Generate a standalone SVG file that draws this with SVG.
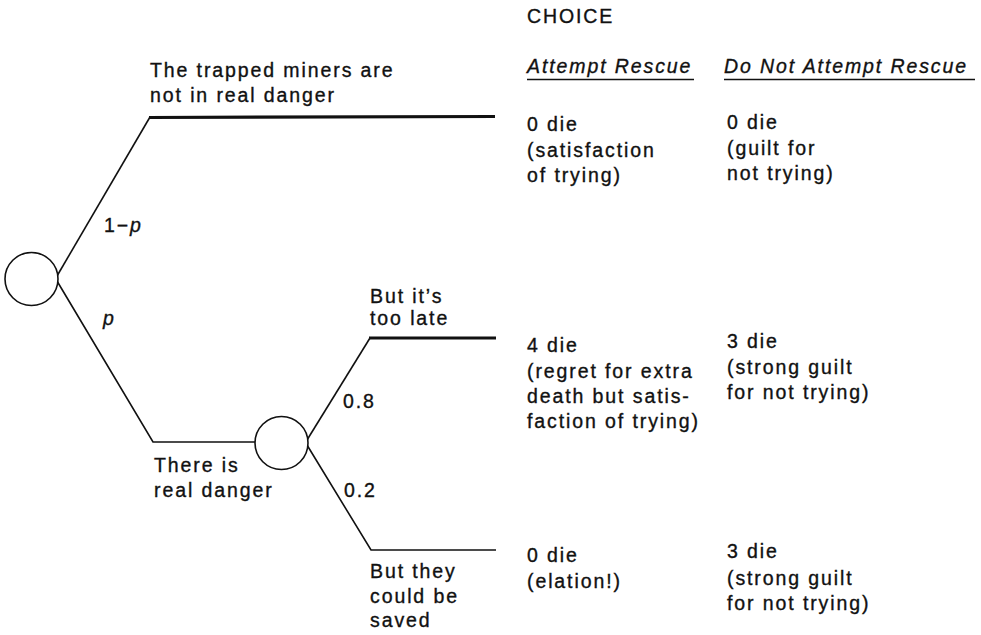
<svg xmlns="http://www.w3.org/2000/svg" width="981" height="635" viewBox="0 0 981 635">
<style>
text{font-family:"Liberation Sans",Arial,sans-serif;font-size:19.5px;fill:#111;stroke:#111;stroke-width:0.35;letter-spacing:1.9px}
.i{font-style:italic}
.thin{stroke:#111;stroke-width:1.6;fill:none}
.thick{stroke:#111;stroke-width:3.2;fill:none}
.node{fill:#fff;stroke:#111;stroke-width:1.6}
</style>
<rect width="981" height="635" fill="#fff"/>
<g id="connectors">
<path class="thin" d="M57,276 L150,117"/>
<path class="thick" d="M149,117.5 L495,116.5"/>
<path class="thin" d="M57,281 L153,442 L255,442"/>
<path class="thin" d="M307,440 L370,338"/>
<path class="thick" d="M369,338 L496,338"/>
<path class="thin" d="M307,445 L371,550 L496,550"/>
</g>
<g id="chance1"><circle class="node" cx="31.5" cy="279" r="26.5"/></g>
<g id="chance2"><circle class="node" cx="281.5" cy="443" r="26.5"/></g>
<g id="branch-labels">
<text x="150" y="77">The trapped miners are</text>
<text x="150" y="102">not in real danger</text>
<text x="104" y="232">1−<tspan class="i">p</tspan></text>
<text x="103" y="325" class="i">p</text>
<text x="154" y="472">There is</text>
<text x="154" y="497">real danger</text>
<text x="370" y="303">But it’s</text>
<text x="370" y="325">too late</text>
<text x="343" y="408">0.8</text>
<text x="344" y="497">0.2</text>
<text x="370" y="578">But they</text>
<text x="370" y="603">could be</text>
<text x="370" y="627">saved</text>
</g>
<g id="choice-header">
<text x="527" y="23">CHOICE</text>
<text x="527" y="73" class="i">Attempt Rescue</text>
<line class="thin" x1="527" y1="79.5" x2="694" y2="79.5"/>
<text x="724" y="73" class="i">Do Not Attempt Rescue</text>
<line class="thin" x1="724" y1="79.5" x2="975" y2="79.5"/>
</g>
<g id="outcomes">
<text x="527" y="131">0 die</text>
<text x="527" y="157">(satisfaction</text>
<text x="527" y="182">of trying)</text>
<text x="727" y="129">0 die</text>
<text x="727" y="155">(guilt for</text>
<text x="727" y="180">not trying)</text>
<text x="527" y="352">4 die</text>
<text x="527" y="378">(regret for extra</text>
<text x="527" y="403">death but satis-</text>
<text x="527" y="428">faction of trying)</text>
<text x="727" y="348">3 die</text>
<text x="727" y="374">(strong guilt</text>
<text x="727" y="399">for not trying)</text>
<text x="527" y="562">0 die</text>
<text x="527" y="588">(elation!)</text>
<text x="727" y="558">3 die</text>
<text x="727" y="585">(strong guilt</text>
<text x="727" y="610">for not trying)</text>
</g>
</svg>
